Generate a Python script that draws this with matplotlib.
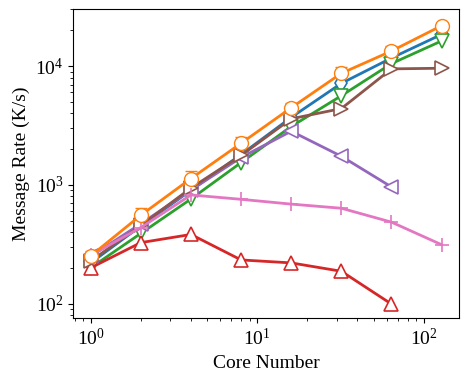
import matplotlib
matplotlib.use('Agg')
import matplotlib.pyplot as plt

plt.rcParams['font.family'] = ['Liberation Serif', 'DejaVu Serif']
plt.rcParams['mathtext.fontset'] = 'custom'
plt.rcParams['mathtext.rm'] = 'Liberation Serif'
plt.rcParams['mathtext.it'] = 'Liberation Serif:italic'

cores = [1, 2, 4, 8, 16, 32, 64, 128]

blue = [220, 450, 900, 1800, 3700, 7160, 11700, 18500]
orange = [252, 555, 1130, 2240, 4460, 8700, 13400, 21900]
orange_err = [25, 80, 170, 300, 400, 1100, 1500, 1200]
green = [200, 390, 760, 1540, 3100, 5630, 10500, 16300]
red = [200, 326, 382, 233, 220, 187, 99]
purple = [250, 470, 905, 1700, 2830, 1740, 960]
brown = [228, 455, 940, 1770, 3600, 4390, 9480, 9600]
pink = [255, 437, 822, 755, 688, 635, 485, 313]

series = [
    (blue, 'tab:blue', 'd', None),
    (orange, 'tab:orange', 'o', orange_err),
    (green, 'tab:green', 'v', None),
    (red, 'tab:red', '^', None),
    (purple, 'tab:purple', '<', None),
    (brown, 'tab:brown', '>', None),
    (pink, 'tab:pink', '+', None),
]

fig = plt.figure(figsize=(4.69, 3.87), dpi=100)
ax = fig.add_axes([0.156, 0.178, 0.823, 0.799])

for vals, col, mk, err in series:
    xs = cores[:len(vals)]
    if err is not None:
        ax.errorbar(xs, vals, yerr=[[0] * len(vals), err], color=col, marker=mk,
                    markersize=10, markerfacecolor='white', linewidth=2,
                    capsize=4, elinewidth=1.2)
    else:
        ax.plot(xs, vals, color=col, marker=mk, markersize=10,
                markerfacecolor='white', markeredgewidth=1.2, linewidth=2)

ax.set_xscale('log')
ax.set_yscale('log')
ax.set_xlabel('Core Number', fontsize=14)
ax.set_ylabel('Message Rate (K/s)', fontsize=14)
ax.tick_params(labelsize=14)

fig.savefig('out.png', dpi=100)
